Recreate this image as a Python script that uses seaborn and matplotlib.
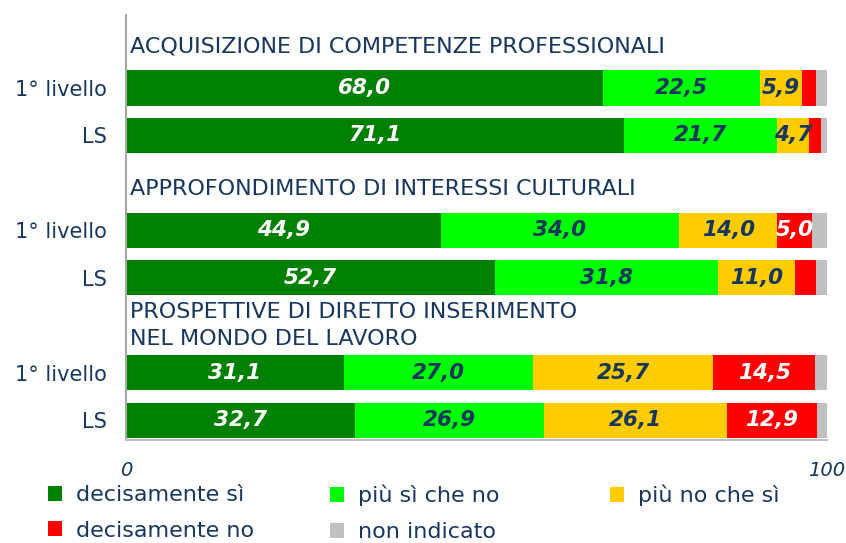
import matplotlib.pyplot as plt
import pandas as pd
import seaborn as sns
from matplotlib.patches import Patch

groups = ['ACQUISIZIONE DI COMPETENZE PROFESSIONALI',
          'APPROFONDIMENTO DI INTERESSI CULTURALI',
          'PROSPETTIVE DI DIRETTO INSERIMENTO\nNEL MONDO DEL LAVORO']
levels = ['1° livello', 'LS']
answers = ['decisamente sì', 'più sì che no', 'più no che sì', 'decisamente no', 'non indicato']

# one list per answer, rows: grp1 1°, grp1 LS, grp2 1°, grp2 LS, grp3 1°, grp3 LS
decisamente_si = [68.0, 71.1, 44.9, 52.7, 31.1, 32.7]
piu_si_che_no = [22.5, 21.7, 34.0, 31.8, 27.0, 26.9]
piu_no_che_si = [5.9, 4.7, 14.0, 11.0, 25.7, 26.1]
decisamente_no = [2.0, 1.6, 5.0, 2.9, 14.5, 12.9]
non_indicato = [1.6, 0.9, 2.1, 1.6, 1.7, 1.4]

colors = ['#008000', '#00FF00', '#FFCC00', '#FF0000', '#C0C0C0']
text_colors = ['white', '#17375E', '#17375E', 'white', '#17375E']
navy = '#17375E'

plt.rcParams['font.family'] = ['DejaVu Sans']

# row keys: a title slot before each pair of bars
order = []
ticklabels = []
for g in range(len(groups)):
    order.append('title%d' % g)
    ticklabels.append('')
    for lv in levels:
        order.append('%d|%s' % (g, lv))
        ticklabels.append(lv)

bar_rows = [k for k in order if not k.startswith('title')]
series = [decisamente_si, piu_si_che_no, piu_no_che_si, decisamente_no, non_indicato]

df = pd.DataFrame({'row': bar_rows})
for name, vals in zip(answers, series):
    df[name] = vals
cum = df[answers].cumsum(axis=1)
cum['row'] = df['row']

fig = plt.figure(figsize=(8.46, 5.43), dpi=100)
ax = fig.add_axes([126 / 846, 1 - 440 / 543, 701 / 846, 425 / 543])

# stacked bars: draw cumulative totals, widest first
for i in reversed(range(len(answers))):
    sns.barplot(data=cum, x=answers[i], y='row', order=order, color=colors[i],
                width=0.74, errorbar=None, orient='h', ax=ax, saturation=1,
                linewidth=0)

# value labels
for r, key in enumerate(bar_rows):
    ypos = order.index(key)
    for i, name in enumerate(answers):
        v = df.loc[r, name]
        if v < 4.5:
            continue
        xc = cum.loc[r, name] - v / 2
        ax.text(xc, ypos, ('%.1f' % v).replace('.', ','), ha='center', va='center',
                fontsize=15.5, fontweight='bold', fontstyle='italic', color=text_colors[i])

# group titles (one-line titles sit a bit lower in their slot)
for g, title in enumerate(groups):
    yoff = 0.0 if '\n' in title else 0.13
    ax.text(0.6, order.index('title%d' % g) + yoff, title, ha='left', va='center',
            fontsize=16, color=navy, linespacing=1.45)

ax.set_xlim(0, 100)
ax.set_ylim(8.42, -0.54)
ax.set_yticks(range(len(order)))
ax.set_yticklabels(ticklabels, fontsize=15, color=navy)
ax.set_xticks([0, 100])
ax.set_xticklabels(['0', '100'], fontsize=14, fontstyle='italic', color=navy)
ax.tick_params(axis='both', length=0)
ax.tick_params(axis='x', pad=15)
ax.tick_params(axis='y', pad=14)
ax.set_xlabel('')
ax.set_ylabel('')
for s in ['top', 'right']:
    ax.spines[s].set_visible(False)
ax.spines['left'].set_color('#A6A6A6')
ax.spines['bottom'].set_color('#BFBFBF')
ax.spines['left'].set_linewidth(1.5)
ax.spines['bottom'].set_linewidth(1.5)

# legend laid out as in the original: three columns, two rows
handles = [Patch(facecolor=c, edgecolor='none', label=a) for a, c in zip(answers, colors)]
cols = [[0, 3], [1, 4], [2]]
xs = [48, 330, 610]
for col, x0 in zip(cols, xs):
    leg = fig.legend(handles=[handles[j] for j in col], loc='upper left',
                     bbox_to_anchor=(x0 / 846, 1 - 485 / 543), frameon=False,
                     fontsize=16, handlelength=0.65, handleheight=0.65,
                     handletextpad=0.6, borderpad=0, borderaxespad=0,
                     labelspacing=0.7)
    for t in leg.get_texts():
        t.set_color(navy)

fig.savefig('out.png', dpi=100)
